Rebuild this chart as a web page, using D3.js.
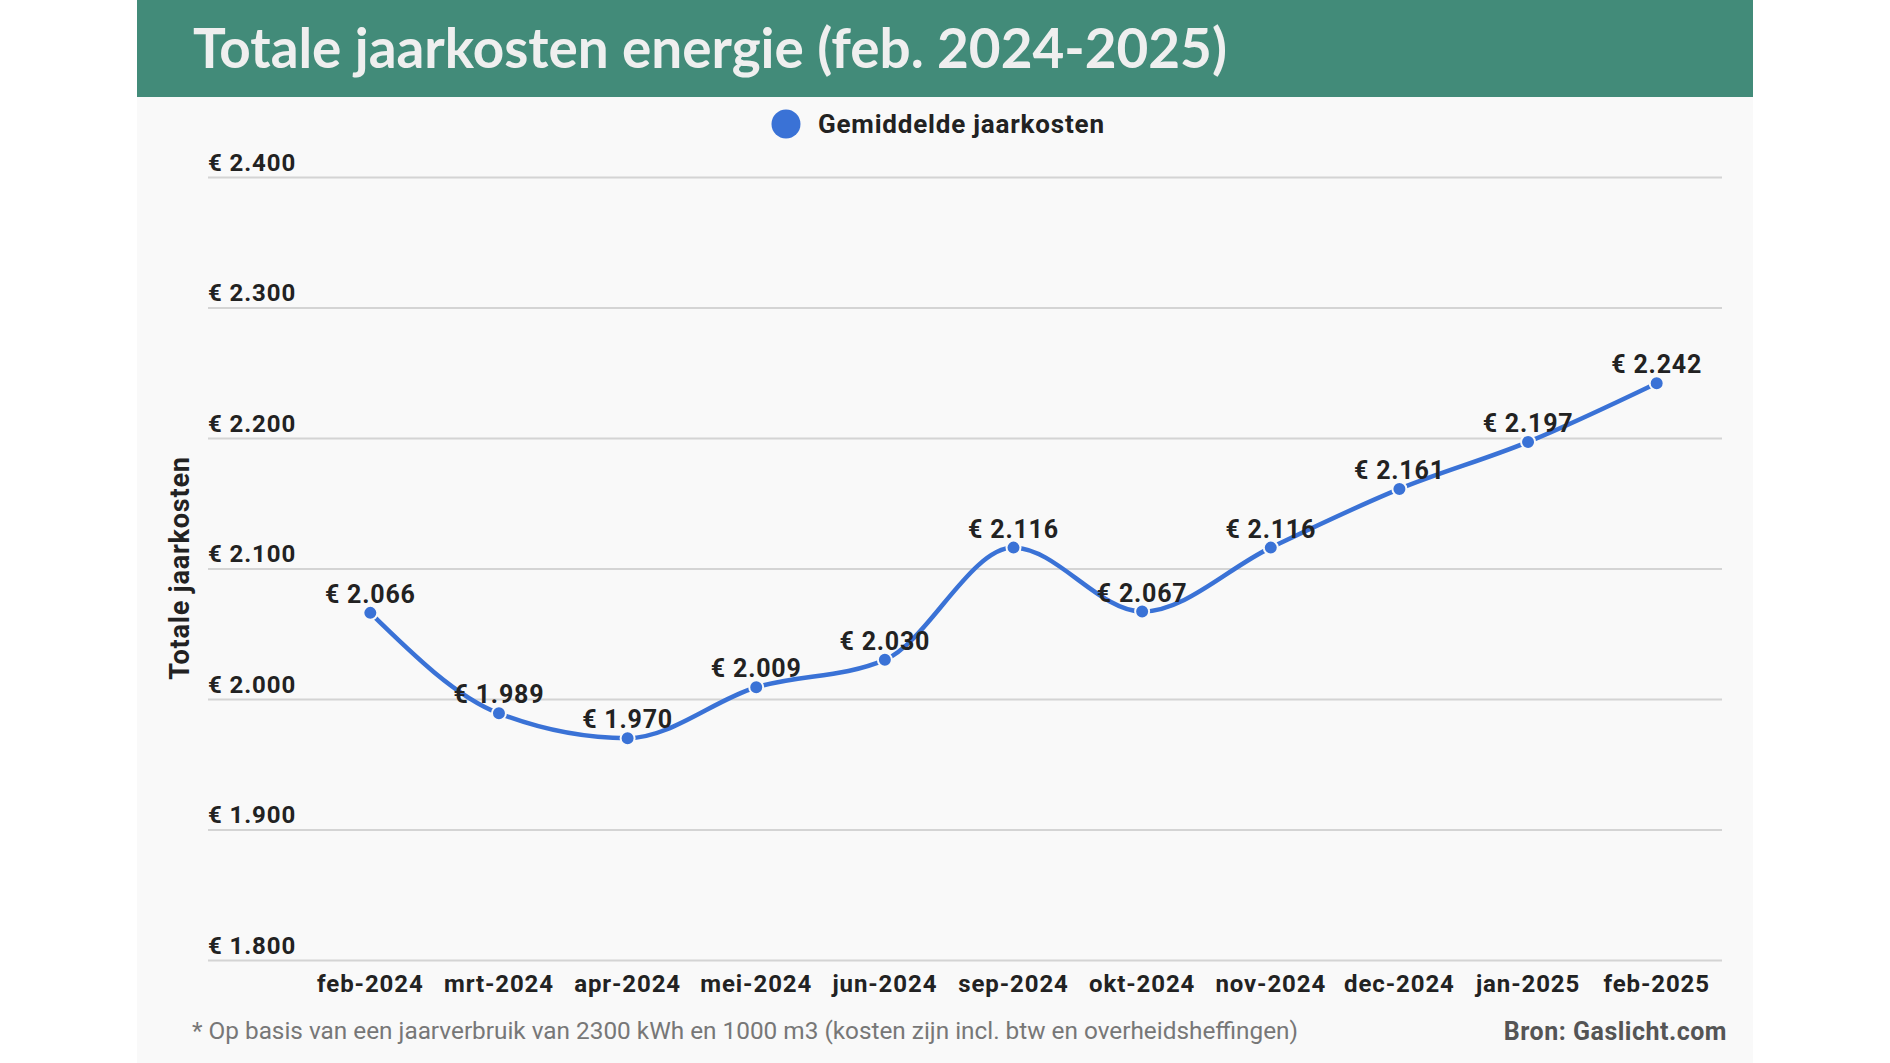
<!DOCTYPE html>
<html>
<head>
<meta charset="utf-8">
<script src="https://cdn.jsdelivr.net/npm/d3@7"></script>
<style>
  body { margin: 0; background: #fff; }
  svg { display: block; }
</style>
</head>
<body>
<div id="chart"></div>
<script>
// data
var months = ["feb-2024", "mrt-2024", "apr-2024", "mei-2024", "jun-2024", "sep-2024",
              "okt-2024", "nov-2024", "dec-2024", "jan-2025", "feb-2025"];
var kosten = [2066, 1989, 1970, 2009, 2030, 2116, 2067, 2116, 2161, 2197, 2242];
var yTicks = [1800, 1900, 2000, 2100, 2200, 2300, 2400];

var W = 1890, H = 1063;
var blue = "#3a72d6";

var svg = d3.select("#chart").append("svg")
    .attr("width", W)
    .attr("height", H);

// panel background + header
svg.append("rect").attr("x", 137).attr("y", 0).attr("width", 1616).attr("height", H).attr("fill", "#f9f9f9");
svg.append("rect").attr("x", 137).attr("y", 0).attr("width", 1616).attr("height", 97).attr("fill", "#428b79");
svg.append("text")
    .attr("x", 193).attr("y", 68)
    .attr("textLength", 1034).attr("lengthAdjust", "spacingAndGlyphs")
    .style("font-family", "Lato, 'Open Sans', sans-serif")
    .style("font-weight", "bold")
    .style("font-size", "56px")
    .style("fill", "#efefef")
    .text("Totale jaarkosten energie (feb. 2024-2025)");

// scales
var x = d3.scaleBand().domain(months).range([306, 1721]);
var y = d3.scaleLinear().domain([1800, 2400]).range([960, 177]);
var cx = function(d, i) { return x(months[i]) + x.bandwidth() / 2; };

var font = "Roboto, 'Noto Sans', sans-serif";
var euro = function(d) { return "€ " + d3.format(",")(d).replace(",", "."); };

// y axis with gridlines, labels sit above the lines
var gy = svg.append("g")
    .attr("transform", "translate(208,0)")
    .call(d3.axisRight(y).tickValues(yTicks).tickSize(1514).tickFormat(euro));
gy.select(".domain").remove();
gy.selectAll(".tick line").attr("stroke", "#d4d4d4").attr("stroke-width", 2);
gy.selectAll(".tick text")
    .attr("x", 0).attr("dy", -7)
    .attr("text-anchor", "start")
    .style("font-family", font).style("font-weight", "bold").style("font-size", "24px")
    .style("letter-spacing", "0.9px")
    .style("fill", "#222");

// x axis
var gx = svg.append("g")
    .attr("transform", "translate(0,960)")
    .call(d3.axisBottom(x).tickSize(0));
gx.select(".domain").remove();
gx.selectAll(".tick text")
    .attr("y", 32).attr("dy", 0)
    .style("font-family", font).style("font-weight", "bold").style("font-size", "24px")
    .style("letter-spacing", "0.9px")
    .style("fill", "#222");

// y axis title
svg.append("text")
    .attr("transform", "translate(189,568) rotate(-90)")
    .attr("text-anchor", "middle")
    .style("font-family", font).style("font-weight", "bold").style("font-size", "27px")
    .style("letter-spacing", "0.8px")
    .style("fill", "#222")
    .text("Totale jaarkosten");

// legend
svg.append("circle").attr("cx", 786).attr("cy", 124).attr("r", 14.5).attr("fill", blue);
svg.append("text")
    .attr("x", 818).attr("y", 133)
    .style("font-family", font).style("font-weight", "bold").style("font-size", "26px")
    .style("letter-spacing", "0.8px")
    .style("fill", "#222")
    .text("Gemiddelde jaarkosten");

// line
var line = d3.line()
    .x(function(d, i) { return cx(d, i); })
    .y(function(d) { return y(d); })
    .curve(d3.curveMonotoneX);

svg.append("path")
    .datum(kosten)
    .attr("d", line)
    .attr("fill", "none")
    .attr("stroke", blue)
    .attr("stroke-width", 4.5);

svg.append("g").selectAll("circle")
    .data(kosten)
    .enter()
    .append("circle")
    .attr("cx", cx)
    .attr("cy", function(d) { return y(d); })
    .attr("r", 7)
    .attr("fill", blue)
    .attr("stroke", "#f9f9f9")
    .attr("stroke-width", 2);

// value labels
svg.append("g").selectAll("text")
    .data(kosten)
    .enter()
    .append("text")
    .attr("x", cx)
    .attr("y", function(d) { return y(d) - 10; })
    .attr("text-anchor", "middle")
    .style("font-family", font).style("font-weight", "bold").style("font-size", "25px")
    .style("letter-spacing", "0.8px")
    .style("fill", "#222")
    .text(euro);

// footer
svg.append("text")
    .attr("x", 192).attr("y", 1039)
    .attr("textLength", 1106).attr("lengthAdjust", "spacingAndGlyphs")
    .style("font-family", font).style("font-size", "23px")
    .style("fill", "#777")
    .text("* Op basis van een jaarverbruik van 2300 kWh en 1000 m3 (kosten zijn incl. btw en overheidsheffingen)");
svg.append("text")
    .attr("x", 1727).attr("y", 1040)
    .attr("text-anchor", "end")
    .style("font-family", font).style("font-weight", "bold").style("font-size", "25px")
    .style("letter-spacing", "0.5px")
    .style("fill", "#555")
    .text("Bron: Gaslicht.com");
</script>
</body>
</html>
